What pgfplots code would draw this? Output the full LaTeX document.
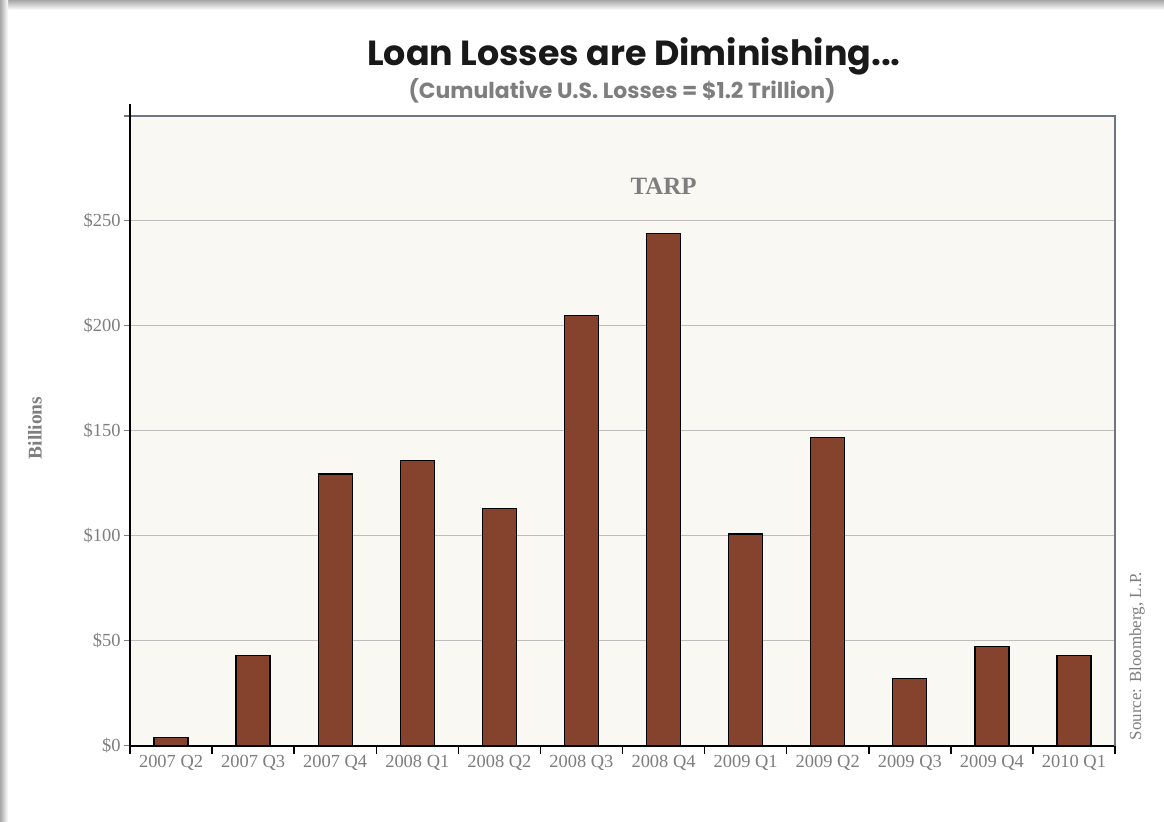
\documentclass[border=0pt]{standalone}
\usepackage{pgfplots}
\pgfplotsset{compat=1.18}
\usepackage{fontspec}
\setmainfont{Liberation Serif}
\newfontfamily\titlefont{Poppins}
\definecolor{barc}{HTML}{85432E}
\definecolor{bgc}{HTML}{F9F8F3}
\definecolor{txtg}{HTML}{7E7E7E}
\definecolor{gridc}{HTML}{BDBDBD}
\definecolor{framec}{HTML}{6E7780}
\begin{document}
\begin{tikzpicture}[x=1bp,y=1bp]
\useasboundingbox (0,0) rectangle (1164,822);
\fill[white] (0,0) rectangle (1164,822);
\shade[top color=black!35, bottom color=white] (0,812) rectangle (1164,822);
\shade[left color=black!35, right color=white] (0,0) rectangle (8,822);

\begin{axis}[
    name=ax, at={(130bp,76bp)}, anchor=south west,
    scale only axis, width=985bp, height=630bp,
    ybar, bar width=34bp,
    xmin=-0.5, xmax=11.5, ymin=0, ymax=300,
    axis background/.style={fill=bgc},
    axis x line*=bottom, axis y line*=left,
    axis line style={black, line width=2.5bp, -},
    xtick={0,...,11},
    xticklabels={2007 Q2,2007 Q3,2007 Q4,2008 Q1,2008 Q2,2008 Q3,2008 Q4,2009 Q1,2009 Q2,2009 Q3,2009 Q4,2010 Q1},
    major x tick style={draw=none},
    minor xtick={-0.5,0.5,...,11.5},
    minor x tick style={black, line width=1.5bp},
    minor tick length=8bp,
    tick align=outside,
    ytick={0,50,...,300},
    yticklabels={\$0,\$50,\$100,\$150,\$200,\$250,{}},
    major y tick style={txtg, line width=1bp},
    major tick length=6bp,
    ymajorgrids, major grid style={gridc, line width=1bp},
    ticklabel style={font=\fontsize{18.5}{20}\selectfont, text=txtg},
    clip=false,
]
\addplot[fill=barc, draw=black, line width=1.3bp] coordinates {
    (0,4) (1,43) (2,129.5) (3,136) (4,113) (5,205)
    (6,244) (7,101) (8,147) (9,32) (10,47.5) (11,43)};
\node[font=\bfseries\fontsize{25}{28}\selectfont, text=txtg] at (axis cs:6,266.5) {TARP};
\end{axis}
\draw[framec, line width=1.5bp] (ax.north west) +(-6,0) -- (ax.north east) -- (ax.south east);
\draw[black, line width=2.5bp] (ax.south west) -- ++(0,642);

\node[font=\titlefont\bfseries\fontsize{35}{38}\selectfont, text=black!90] at (634,766) {Loan Losses are Diminishing...};
\node[font=\titlefont\bfseries\fontsize{22}{24}\selectfont, text=txtg] at (622,731) {(Cumulative U.S. Losses = \$1.2 Trillion)};
\node[font=\bfseries\fontsize{19.5}{22}\selectfont, text=txtg, rotate=90] at (35,394) {Billions};
\node[font=\fontsize{17}{19}\selectfont, text=txtg, rotate=90] at (1137,166) {Source: Bloomberg, L.P.};
\end{tikzpicture}
\end{document}
